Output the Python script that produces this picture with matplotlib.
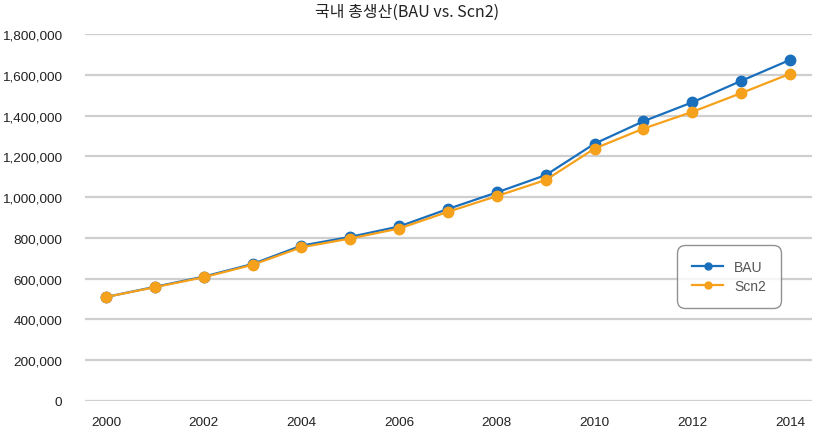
import matplotlib
matplotlib.use("Agg")
import matplotlib.pyplot as plt
from matplotlib.ticker import FuncFormatter, MultipleLocator
from matplotlib.lines import Line2D

years = list(range(2000, 2015))
bau = [510000, 560000, 610000, 672000, 762000, 805000, 856000, 942000, 1023000,
       1108000, 1262000, 1372000, 1465000, 1570000, 1673000]
scn2 = [510000, 558000, 607000, 668000, 754000, 797000, 846000, 928000, 1005000,
        1084000, 1238000, 1336000, 1418000, 1510000, 1605000]
title = "국내 총생산(BAU vs. Scn2)"
series_names = ["BAU", "Scn2"]

blue = "#1a6fbd"
orange = "#f5a11c"
fam = ["Liberation Sans", "Noto Sans CJK KR", "DejaVu Sans"]
plt.rcParams["font.family"] = fam

fig = plt.figure(figsize=(8.15, 4.35), dpi=100)
ax = fig.add_axes([85/815, 33/435, 727/815, 367/435])

ax.plot(years, scn2, color=orange, lw=1.6, marker="o", ms=7.5, clip_on=False, zorder=3, label=series_names[1])
ax.plot(years, bau, color=blue, lw=1.6, marker="o", ms=7.5, clip_on=False, zorder=2, label=series_names[0])

ax.set_xlim(1999.57, 2014.45)
ax.set_ylim(0, 1800000)
ax.yaxis.set_major_locator(MultipleLocator(200000))
ax.xaxis.set_major_locator(MultipleLocator(2))
ax.yaxis.set_major_formatter(FuncFormatter(lambda v, p: f"{int(v):,}"))
ax.grid(axis="y", color="#cfcfcf", lw=1.6)
ax.set_axisbelow(True)
for s in ax.spines.values():
    s.set_visible(False)
ax.tick_params(axis="both", length=0, labelsize=9.7, colors="#222222")
ax.tick_params(axis="y", pad=16.5)
ax.tick_params(axis="x", pad=11)

fig.text(0.5, 0.972, title, ha="center", va="center", fontsize=11.5,
         family=["Noto Sans CJK KR", "DejaVu Sans"], color="#222222")

handles = [Line2D([0], [0], color=blue, lw=1.6, marker="o", ms=5),
           Line2D([0], [0], color=orange, lw=1.6, marker="o", ms=5)]
leg = ax.legend(handles, series_names, loc="upper left",
                bbox_to_anchor=(677/815, 1 - 246/435), bbox_transform=fig.transFigure,
                frameon=True, fancybox=True, fontsize=10, handlelength=2.2,
                borderpad=1.1, labelspacing=0.35, handletextpad=0.8, borderaxespad=0)
fr = leg.get_frame()
fr.set_edgecolor("#777777")
fr.set_linewidth(1.0)
fr.set_boxstyle("round,pad=0,rounding_size=0.6")
for t in leg.get_texts():
    t.set_color("#555555")

fig.savefig("out.png", dpi=100)
